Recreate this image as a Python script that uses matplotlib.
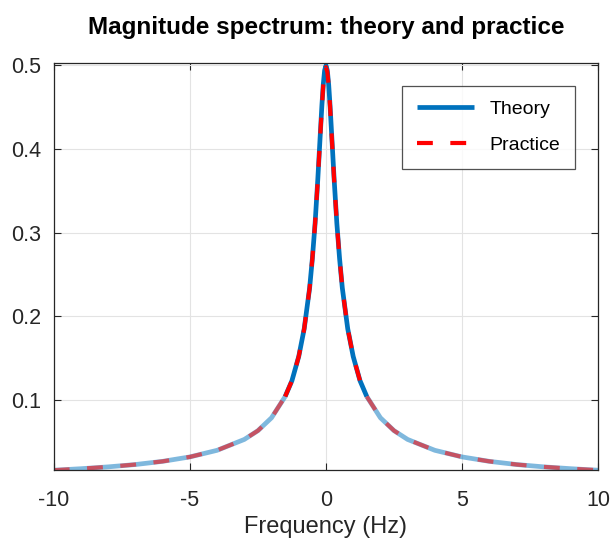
import matplotlib
matplotlib.use("Agg")
from matplotlib import pyplot as plt

# values (positive side, curve is symmetric)
freq_pos = [0, 0.05, 0.1, 0.15, 0.2, 0.3, 0.4, 0.5, 0.6, 0.8, 1.0, 1.25,
            1.5, 2, 2.5, 3, 4, 5, 6, 7, 8, 9, 10]
theory_pos = [0.5, 0.494, 0.477, 0.452, 0.423, 0.364, 0.311, 0.269, 0.234,
              0.185, 0.152, 0.123, 0.104, 0.0786, 0.0632, 0.0527, 0.0397,
              0.0318, 0.0265, 0.0227, 0.0199, 0.0177, 0.0159]
practice_pos = [0.498, 0.492, 0.476, 0.451, 0.422, 0.363, 0.311, 0.269, 0.234,
                0.185, 0.152, 0.123, 0.104, 0.0786, 0.0632, 0.0527, 0.0397,
                0.0318, 0.0265, 0.0227, 0.0199, 0.0177, 0.0159]

freq = [-f for f in reversed(freq_pos[1:])] + freq_pos
theory = list(reversed(theory_pos[1:])) + theory_pos
practice = list(reversed(practice_pos[1:])) + practice_pos

blue = "#0072BD"
red = "#FF0000"
font = ["Liberation Sans", "DejaVu Sans"]


def pieces(x, y, lim=1.5):
    # split into left tail, centre, right tail (overlapping at the joins)
    i0 = next(i for i, v in enumerate(x) if v >= -lim)
    i1 = max(i for i, v in enumerate(x) if v <= lim)
    return [(x[:i0 + 1], y[:i0 + 1], False),
            (x[i0:i1 + 1], y[i0:i1 + 1], True),
            (x[i1:], y[i1:], False)]


fig = plt.figure(figsize=(6.11, 5.38), dpi=100)
ax = fig.add_axes([0.088, 0.126, 0.891, 0.757])

h_theory = h_practice = None
for xs, ys, centre in pieces(freq, theory):
    ln, = ax.plot(xs, ys, color=blue, lw=3.4, alpha=1.0 if centre else 0.5,
                  solid_capstyle="butt")
    if centre:
        h_theory = ln
for xs, ys, centre in pieces(freq, practice):
    ln, = ax.plot(xs, ys, color=red, lw=3.0, alpha=1.0 if centre else 0.55,
                  dashes=(3.8, 4.2), dash_capstyle="butt")
    if centre:
        h_practice = ln

ax.set_xlim(-10, 10)
ax.set_ylim(min(theory), 0.503)
ax.set_xticks([-10, -5, 0, 5, 10])
ax.set_yticks([0.1, 0.2, 0.3, 0.4, 0.5])
ax.set_xticklabels(["-10", "-5", "0", "5", "10"])
ax.set_yticklabels(["0.1", "0.2", "0.3", "0.4", "0.5"])
ax.grid(True, color="#e3e3e3", lw=0.8)
ax.set_axisbelow(True)
ax.tick_params(axis="both", direction="in", top=True, right=True, length=5,
               color="#262626", labelsize=15.5, labelcolor="#262626")
ax.tick_params(axis="x", pad=14)
ax.tick_params(axis="y", pad=9)
for lab in ax.get_xticklabels() + ax.get_yticklabels():
    lab.set_family(font)
for s in ax.spines.values():
    s.set_color("#262626")
    s.set_linewidth(0.9)

ax.set_xlabel("Frequency (Hz)", fontsize=17, color="#262626", family=font,
              labelpad=4)
ax.set_title("Magnitude spectrum: theory and practice", fontsize=17.5,
             fontweight="bold", family=font, pad=21)

leg = ax.legend([h_theory, h_practice], ["Theory", "Practice"],
                loc="upper right", bbox_to_anchor=(0.968, 0.958),
                fancybox=False, edgecolor="#262626", handlelength=2.95,
                borderpad=0.75, labelspacing=0.95, handletextpad=0.8,
                borderaxespad=0.3, prop={"family": font, "size": 14})
leg.get_frame().set_linewidth(0.9)

plt.savefig("out.png", dpi=100)
